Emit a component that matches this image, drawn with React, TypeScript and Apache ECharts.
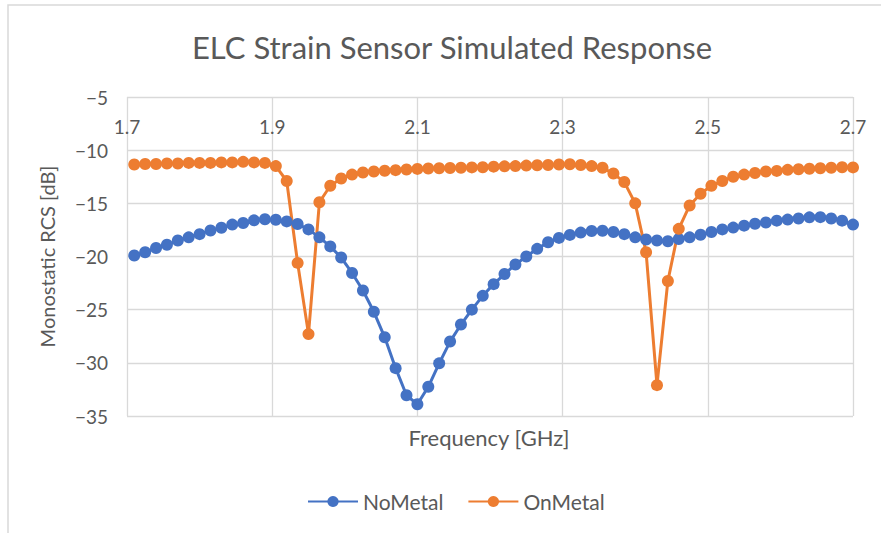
import React, { useEffect, useRef } from "react";
import * as echarts from "echarts";

const F0 = 1.7;
const xTickStep = 0.2;

const frequencies: number[] = [
  1.710, 1.725, 1.740, 1.755, 1.770, 1.785, 1.800, 1.815, 1.830, 1.845,
  1.860, 1.875, 1.890, 1.905, 1.920, 1.935, 1.950, 1.965, 1.980, 1.995,
  2.010, 2.025, 2.040, 2.055, 2.070, 2.085, 2.100, 2.115, 2.130, 2.145,
  2.160, 2.175, 2.190, 2.205, 2.220, 2.235, 2.250, 2.265, 2.280, 2.295,
  2.310, 2.325, 2.340, 2.355, 2.370, 2.385, 2.400, 2.415, 2.430, 2.445,
  2.460, 2.475, 2.490, 2.505, 2.520, 2.535, 2.550, 2.565, 2.580, 2.595,
  2.610, 2.625, 2.640, 2.655, 2.670, 2.685, 2.700,
];

const noMetal: number[] = [
  -19.9, -19.6, -19.2, -18.9, -18.5, -18.2, -17.9, -17.55, -17.3, -17.0,
  -16.85, -16.6, -16.5, -16.55, -16.7, -16.95, -17.45, -18.2, -19.05, -20.1,
  -21.55, -23.2, -25.2, -27.6, -30.5, -33.05, -33.9, -32.25, -30.05, -28.0,
  -26.4, -25.0, -23.7, -22.6, -21.65, -20.75, -20.0, -19.28, -18.66, -18.25,
  -17.97, -17.75, -17.6, -17.58, -17.7, -17.9, -18.2, -18.4, -18.5, -18.57,
  -18.35, -18.2, -17.95, -17.7, -17.45, -17.28, -17.1, -16.92, -16.8, -16.63,
  -16.53, -16.43, -16.32, -16.3, -16.43, -16.63, -17.0,
];

const onMetal: number[] = [
  -11.35, -11.3, -11.3, -11.25, -11.25, -11.2, -11.2, -11.2, -11.15, -11.15,
  -11.1, -11.15, -11.2, -11.5, -12.9, -20.6, -27.3, -14.9, -13.35, -12.66,
  -12.3, -12.1, -12.0, -11.94, -11.88, -11.82, -11.76, -11.72, -11.7, -11.68,
  -11.65, -11.62, -11.6, -11.55, -11.52, -11.5, -11.45, -11.42, -11.4, -11.35,
  -11.32, -11.4, -11.5, -11.65, -12.2, -13.0, -15.0, -19.6, -32.1, -22.3,
  -17.4, -15.2, -14.1, -13.35, -12.9, -12.5, -12.3, -12.15, -12.0, -11.95,
  -11.85, -11.8, -11.75, -11.7, -11.65, -11.6, -11.62,
];

const seriesNames = ["NoMetal", "OnMetal"];
const titleText = "ELC Strain Sensor Simulated Response";
const xName = "Frequency [GHz]";
const yName = "Monostatic RCS [dB]";

const FONT = "Lato, 'Open Sans', sans-serif";
const TEXT = "#595959";
const GRID = "#d9d9d9";

export default function App() {
  const ref = useRef<HTMLDivElement>(null);

  useEffect(() => {
    if (!ref.current) return;
    const chart = echarts.init(ref.current, undefined, { renderer: "svg" });
    const toPts = (vals: number[]) =>
      frequencies.map((f, i) => [+(f - F0).toFixed(4), vals[i]]);

    chart.setOption({
      animation: false,
      backgroundColor: "#ffffff",
      textStyle: { fontFamily: FONT },
      grid: { left: 127, right: 28, top: 97, bottom: 117, containLabel: false },
      graphic: [
        {
          type: "rect",
          silent: true,
          shape: { x: 8, y: 5, width: 900, height: 560 },
          style: { fill: "none", stroke: GRID, lineWidth: 1.5 },
        },
        {
          type: "text",
          x: 452,
          y: 47,
          style: {
            text: titleText,
            align: "center",
            verticalAlign: "middle",
            fill: TEXT,
            font: `31px ${FONT}`,
          },
        },
        {
          type: "text",
          x: 489,
          y: 437,
          style: {
            text: xName,
            align: "center",
            verticalAlign: "middle",
            fill: TEXT,
            font: `22px ${FONT}`,
          },
        },
      ],
      legend: {
        data: seriesNames,
        top: 486,
        left: 302,
        itemWidth: 50,
        itemHeight: 14,
        itemGap: 24,
        textStyle: { color: TEXT, fontSize: 21, fontFamily: FONT },
      },
      xAxis: {
        type: "value",
        position: "top",
        min: 0,
        max: 1,
        interval: xTickStep,
        axisLine: { show: false, onZero: false },
        axisTick: { show: false },
        axisLabel: {
          inside: true,
          margin: 20,
          color: TEXT,
          fontSize: 19,
          fontFamily: FONT,
          showMinLabel: true,
          showMaxLabel: true,
          formatter: (v: number) => (F0 + v).toFixed(1),
        },
        splitLine: { show: true, lineStyle: { color: GRID, width: 1.3 } },
      },
      yAxis: {
        type: "value",
        min: -35,
        max: -5,
        interval: 5,
        name: yName,
        nameLocation: "middle",
        nameRotate: 90,
        nameGap: 70,
        nameTextStyle: { color: TEXT, fontSize: 20, fontFamily: FONT },
        axisLine: { show: false },
        axisTick: { show: false },
        axisLabel: {
          color: TEXT,
          fontSize: 19,
          margin: 19,
          fontFamily: FONT,
          formatter: (v: number) => String(v).replace("-", "\u2212"),
        },
        splitLine: { show: true, lineStyle: { color: GRID, width: 1.3 } },
      },
      series: [
        {
          name: seriesNames[0],
          type: "line",
          data: toPts(noMetal),
          symbol: "circle",
          symbolSize: 12,
          showAllSymbol: true,
          clip: false,
          color: "#4472C4",
          lineStyle: { width: 3, color: "#4472C4" },
          itemStyle: { color: "#4472C4" },
        },
        {
          name: seriesNames[1],
          type: "line",
          data: toPts(onMetal),
          symbol: "circle",
          symbolSize: 12,
          showAllSymbol: true,
          clip: false,
          color: "#ED7D31",
          lineStyle: { width: 3, color: "#ED7D31" },
          itemStyle: { color: "#ED7D31" },
        },
      ],
    });
    return () => chart.dispose();
  }, []);

  return (
    <div
      ref={ref}
      style={{ position: "fixed", left: 0, top: 0, width: 881, height: 533, background: "#fff" }}
    />
  );
}
